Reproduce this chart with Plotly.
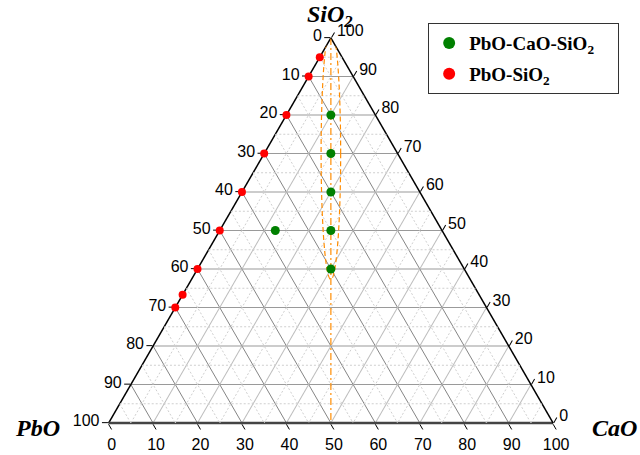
import numpy as np
import plotly.graph_objects as go

# ---------------- data (mol %) ----------------
tick_vals = [0, 10, 20, 30, 40, 50, 60, 70, 80, 90, 100]
tick_text = ["100", "90", "80", "70", "60", "50", "40", "30", "20", "10", "0"]
minor_vals = [5, 15, 25, 35, 45, 55, 65, 75, 85, 95]

green_name = "<b>PbO-CaO-SiO<sub>2</sub></b>&nbsp;&nbsp;&nbsp;&nbsp;"
green_sio2 = [80, 70, 60, 50, 40, 50]
green_pbo = [10, 15, 20, 25, 30, 37.5]
green_cao = [10, 15, 20, 25, 30, 12.5]

red_name = "<b>PbO-SiO<sub>2</sub></b>"
red_sio2 = [95, 90, 80, 70, 60, 50, 40, 33.3, 30]
red_pbo = [5, 10, 20, 30, 40, 50, 60, 66.7, 70]
red_cao = [0, 0, 0, 0, 0, 0, 0, 0, 0]

axis_titles = ["<b><i>SiO<sub>2</sub></i></b>", "<b><i>PbO</i></b>", "<b><i>CaO</i></b>"]

# guide: PbO/CaO = 1 line and the composition-region outline
guide_sio2 = [100, 0]
guide_pbo = [0, 50]
guide_cao = [0, 50]
region_center_sio2 = 70.0
region_half_height = 32.7
region_half_width = 2.2

# ---------------- style ----------------
ORANGE = "#FF8C00"
SANS = "Liberation Sans, Arial, sans-serif"
SERIF = "Liberation Serif, Times New Roman, serif"

fig = go.Figure()

# minor (5 %) grid as dotted lines
ma, mb, mc = [], [], []
for v in minor_vals:
    r = 100 - v
    ma += [v, v, None]; mb += [r, 0, None]; mc += [0, r, None]
    ma += [r, 0, None]; mb += [v, v, None]; mc += [0, r, None]
    ma += [r, 0, None]; mb += [0, r, None]; mc += [v, v, None]
fig.add_trace(go.Scatterternary(
    a=ma, b=mb, c=mc, mode="lines", showlegend=False, hoverinfo="skip",
    line=dict(color="#cfcfcf", width=1, dash="2px,2px"), cliponaxis=False))

# PbO = CaO guide line (dash-dot)
fig.add_trace(go.Scatterternary(
    a=guide_sio2, b=guide_pbo, c=guide_cao, mode="lines", showlegend=False,
    hoverinfo="skip", line=dict(color=ORANGE, width=1.2, dash="7px,3px,2px,3px")))

# region outline (dashed ellipse around the studied compositions)
t = np.linspace(0, 2 * np.pi, 241)
es = region_center_sio2 + region_half_height * np.sin(t)
ed = region_half_width * np.cos(t)
ec = (100 - es) / 2 + ed
eb = (100 - es) / 2 - ed
fig.add_trace(go.Scatterternary(
    a=es, b=eb, c=ec, sum=100, mode="lines", showlegend=False, hoverinfo="skip",
    line=dict(color=ORANGE, width=1.2, dash="5px,3px"), cliponaxis=False))

fig.add_trace(go.Scatterternary(
    a=green_sio2, b=green_pbo, c=green_cao, mode="markers", name=green_name,
    legendgroup="g1", marker=dict(color="#008000", size=9), cliponaxis=False))
fig.add_trace(go.Scatterternary(
    a=red_sio2, b=red_pbo, c=red_cao, mode="markers", name=red_name,
    legendgroup="g2", marker=dict(color="#FF0000", size=8), cliponaxis=False))

common = dict(tickmode="array", tickvals=tick_vals, ticktext=tick_text,
              ticks="outside", ticklen=6, tickwidth=1, tickcolor="#000",
              tickfont=dict(family=SANS, size=16, color="#000"),
              showgrid=True, gridwidth=1, layer="below traces", min=0,
              title=dict(text=""))

title_font = dict(family=SERIF, size=24, color="#000")

fig.update_layout(
    width=640, height=455,
    margin=dict(l=0, r=0, t=0, b=0),
    paper_bgcolor="white",
    showlegend=True,
    ternary=dict(
        sum=100,
        bgcolor="white",
        domain=dict(x=[0.157, 0.877], y=[0.0703, 0.9165]),
        aaxis=dict(**common, gridcolor="#9a9a9a", linecolor="#000", linewidth=1.5),
        baxis=dict(**common, gridcolor="#858585", linecolor="#444", linewidth=2.5),
        caxis=dict(**common, gridcolor="#bdbdbd", linecolor="#000", linewidth=1.5),
    ),
    legend=dict(x=0.669, y=0.949, xanchor="left", yanchor="top",
                bgcolor="white", bordercolor="#333", borderwidth=1,
                font=dict(family=SERIF, size=19, color="#000"),
                itemsizing="constant", tracegroupgap=3),
    annotations=[
        dict(text=axis_titles[0], x=0.516, y=0.965, xref="paper", yref="paper",
             xanchor="center", yanchor="middle", showarrow=False, font=title_font),
        dict(text=axis_titles[1], x=0.02, y=0.059, xref="paper", yref="paper",
             xanchor="left", yanchor="middle", showarrow=False, font=title_font),
        dict(text=axis_titles[2], x=0.922, y=0.059, xref="paper", yref="paper",
             xanchor="left", yanchor="middle", showarrow=False, font=title_font),
    ],
)

fig.write_html("out.html", config={"displayModeBar": False},
               post_script="document.body.style.margin='0';")
